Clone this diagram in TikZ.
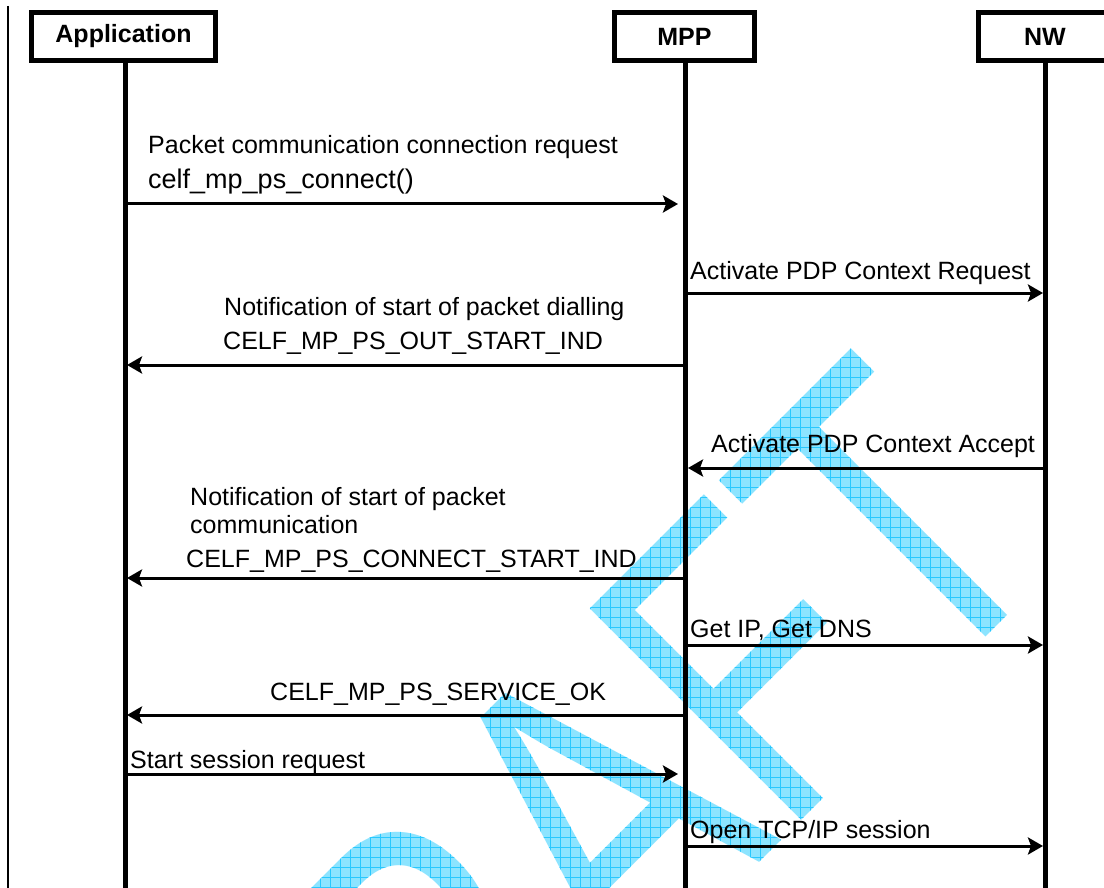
\documentclass[tikz,border=0pt]{standalone}
\usepackage{fontspec}
\setmainfont{Liberation Sans}
\usetikzlibrary{arrows.meta,fadings,patterns.meta}
\definecolor{wmlight}{RGB}{140,228,255}
\definecolor{wmline}{RGB}{40,200,255}
\begin{tikzfadingfrompicture}[name=draftfade]
  \path[use as bounding box] (-50bp,-50bp) rectangle (50bp,50bp);
  \node[rotate=45, text=transparent!0, inner sep=0pt,
    font=\fontsize{15.52}{15.52}\selectfont] at (0,0) {\scalebox{0.76}[1]{DRAFT}};
\end{tikzfadingfrompicture}
\begin{document}
\begin{tikzpicture}[x=1pt,y=-1pt,
  actor/.style={draw, line width=5pt, minimum height=48pt, inner sep=0pt,
    font=\fontsize{25}{30}\selectfont\bfseries, fill=white},
  lifeline/.style={line width=5pt},
  msg/.style={line width=3pt, -{Stealth[length=15pt,width=17pt,inset=3pt]}},
  lbl/.style={anchor=base west, inner sep=0pt, font=\fontsize{25}{30}\selectfont},
  lblbig/.style={lbl, font=\fontsize{27}{32}\selectfont},
  wmarea/.style={path fading=draftfade, fit fading=true},
]
\useasboundingbox (0,0) rectangle (1104,888);
\fill[white] (0,0) rectangle (1104,888);
% watermark (hatched DRAFT)
\coordinate (wmc) at (573,838);
\fill[wmlight, wmarea]
  ([shift={(-700,-700)}]wmc) rectangle ([shift={(700,700)}]wmc);
\fill[pattern={Lines[angle=0,distance=10pt,line width=1pt]}, pattern color=wmline, wmarea]
  ([shift={(-700,-700)}]wmc) rectangle ([shift={(700,700)}]wmc);
\fill[pattern={Lines[angle=90,distance=10pt,line width=1pt]}, pattern color=wmline, wmarea]
  ([shift={(-700,-700)}]wmc) rectangle ([shift={(700,700)}]wmc);
% left frame line
\coordinate (ftop) at (7.7,6);
\coordinate (fbot) at (7.7,888);
\draw[line width=2pt] (ftop) -- (fbot);
% actors
\node[actor, minimum width=184pt] (app) at (123.5,36.5) {Application};
\node[actor, minimum width=140pt] (mpp) at (684.5,36.5) {MPP};
\node[actor, minimum width=133pt] (nw) at (1045,36.5) {NW};
% lifelines
\coordinate (appB) at (125,888);
\coordinate (mppB) at (685,888);
\coordinate (nwB) at (1045,888);
\draw[lifeline] (app.south -| appB) -- (appB);
\draw[lifeline] (mpp.south -| mppB) -- (mppB);
\draw[lifeline] (nw.south -| nwB) -- (nwB);
% message rows
\foreach \n/\y in {1/204,2/293,3/365,4/468,5/578,6/645,7/715,8/774,9/846}
  \coordinate (r\n) at (0,\y);
\draw[msg, shorten >=7pt] (appB |- r1) -- (mppB |- r1);
\draw[msg, shorten >=2pt] (mppB |- r2) -- (nwB |- r2);
\draw[msg, shorten >=2pt] (mppB |- r3) -- (appB |- r3);
\draw[msg, shorten >=3pt] (nwB |- r4) -- (mppB |- r4);
\draw[msg, shorten >=2pt] (mppB |- r5) -- (appB |- r5);
\draw[msg, shorten >=2pt] (mppB |- r6) -- (nwB |- r6);
\draw[msg, shorten >=2pt] (mppB |- r7) -- (appB |- r7);
\draw[msg, shorten >=7pt] (appB |- r8) -- (mppB |- r8);
\draw[msg, shorten >=2pt] (mppB |- r9) -- (nwB |- r9);
% labels
\node[lbl] (l1a) at (148,154) {Packet communication connection request};
\node[lblbig] (l1b) at (148,189) {celf\_mp\_ps\_connect()};
\node[lbl] (l2) at (690,279) {Activate PDP Context Request};
\node[lbl] (l3a) at (224,315) {Notification of start of packet dialling};
\node[lbl] (l3b) at (223,349) {CELF\_MP\_PS\_OUT\_START\_IND};
\node[lbl] (l4) at (711,452) {Activate PDP Context Accept};
\node[lbl] (l5a) at (190,505) {Notification of start of packet};
\node[lbl] (l5b) at (190,533) {communication};
\node[lbl] (l5c) at (186,567) {CELF\_MP\_PS\_CONNECT\_START\_IND};
\node[lbl] (l6) at (690,637) {Get IP, Get DNS};
\node[lbl] (l7) at (270,700) {CELF\_MP\_PS\_SERVICE\_OK};
\node[lbl] (l8) at (130,768) {Start session request};
\node[lbl] (l9) at (690,838) {Open TCP/IP session};
\end{tikzpicture}
\end{document}
